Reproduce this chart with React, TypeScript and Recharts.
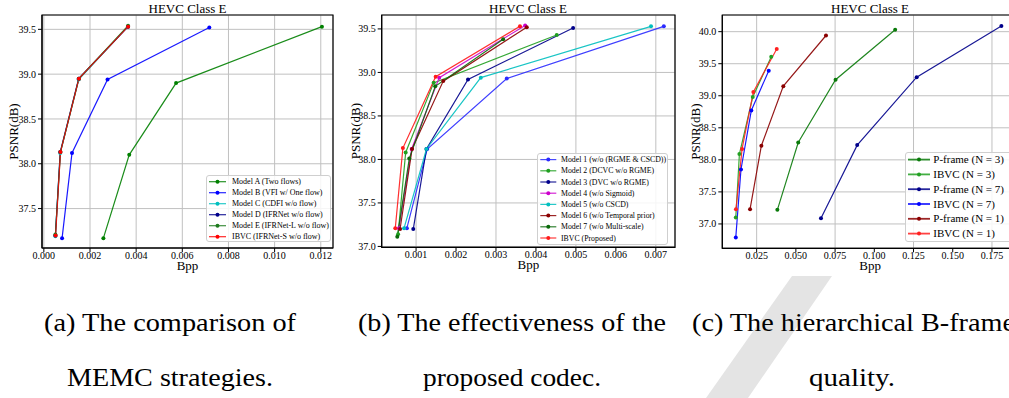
import React from "react";
import { LineChart, Line, XAxis, YAxis, CartesianGrid, ReferenceArea, Legend } from "recharts";

const SERIF = '"Liberation Serif", "Times New Roman", serif';

// ---- (a) MEMC strategies ----
const aModelABpp = [0.00258, 0.0037, 0.00573, 0.01205];
const aModelAPsnr = [37.17, 38.1, 38.9, 39.53];
const aModelBBpp = [0.00079, 0.00122, 0.00276, 0.00717];
const aModelBPsnr = [37.17, 38.12, 38.94, 39.52];
const aModelCBpp = [0.0005, 0.00071, 0.00151, 0.00364];
const aModelCPsnr = [37.19, 38.12, 38.94, 39.53];
const aModelDBpp = [0.0005, 0.00071, 0.00151, 0.00365];
const aModelDPsnr = [37.2, 38.13, 38.95, 39.53];
const aModelEBpp = [0.0005, 0.00072, 0.00152, 0.00365];
const aModelEPsnr = [37.21, 38.13, 38.95, 39.54];
const aIbvcBpp = [0.00051, 0.00072, 0.00152, 0.00365];
const aIbvcPsnr = [37.2, 38.13, 38.95, 39.53];
const aXTicks = [0, 0.002, 0.004, 0.006, 0.008, 0.01, 0.012];
const aYTicks = [37.5, 38.0, 38.5, 39.0, 39.5];

// ---- (b) proposed codec ablation ----
const bModel1Bpp = [0.00077, 0.00128, 0.00327, 0.0072];
const bModel1Psnr = [37.21, 38.12, 38.93, 39.53];
const bModel2Bpp = [0.00055, 0.00074, 0.00144, 0.00452];
const bModel2Psnr = [37.14, 38.08, 38.88, 39.43];
const bModel3Bpp = [0.00093, 0.00126, 0.0023, 0.00493];
const bModel3Psnr = [37.2, 38.12, 38.92, 39.51];
const bModel4Bpp = [0.00057, 0.00089, 0.00158, 0.00373];
const bModel4Psnr = [37.21, 38.12, 38.94, 39.54];
const bModel5Bpp = [0.0007, 0.00126, 0.00262, 0.00688];
const bModel5Psnr = [37.21, 38.12, 38.94, 39.53];
const bModel6Bpp = [0.0006, 0.0009, 0.00168, 0.00377];
const bModel6Psnr = [37.2, 38.12, 38.9, 39.52];
const bModel7Bpp = [0.00053, 0.00083, 0.00148, 0.00318];
const bModel7Psnr = [37.11, 38.01, 38.84, 39.38];
const bIbvcBpp = [0.00048, 0.00067, 0.00149, 0.0036];
const bIbvcPsnr = [37.21, 38.13, 38.95, 39.53];
const bXTicks = [0.001, 0.002, 0.003, 0.004, 0.005, 0.006, 0.007];
const bYTicks = [37.0, 37.5, 38.0, 38.5, 39.0, 39.5];

// ---- (c) hierarchical B-frame quality ----
const cPN3Bpp = [0.0382, 0.0515, 0.0753, 0.1133];
const cPN3Psnr = [37.22, 38.27, 39.25, 40.03];
const cIN3Bpp = [0.0117, 0.014, 0.0225, 0.0343];
const cIN3Psnr = [37.1, 38.09, 38.98, 39.61];
const cPN7Bpp = [0.066, 0.0891, 0.127, 0.181];
const cPN7Psnr = [37.09, 38.23, 39.29, 40.09];
const cIN7Bpp = [0.0117, 0.015, 0.0216, 0.0327];
const cIN7Psnr = [36.79, 37.85, 38.77, 39.39];
const cPN1Bpp = [0.0208, 0.028, 0.042, 0.0692];
const cPN1Psnr = [37.23, 38.22, 39.15, 39.94];
const cIN1Bpp = [0.0118, 0.0157, 0.0229, 0.0378];
const cIN1Psnr = [37.23, 38.17, 39.06, 39.73];
const cXTicks = [0.025, 0.05, 0.075, 0.1, 0.125, 0.15, 0.175];
const cYTicks = [37.0, 37.5, 38.0, 38.5, 39.0, 39.5, 40.0];

interface Series {
  name: string;
  color: string;
  bpp: number[];
  psnr: number[];
  opacity?: number;
}

const seriesA: Series[] = [
  { name: "Model A (Two flows)", color: "#008000", bpp: aModelABpp, psnr: aModelAPsnr },
  { name: "Model B (VFI w/ One flow)", color: "#0000ff", bpp: aModelBBpp, psnr: aModelBPsnr },
  { name: "Model C (CDFI w/o flow)", color: "#00bfbf", bpp: aModelCBpp, psnr: aModelCPsnr },
  { name: "Model D (IFRNet w/o flow)", color: "#00008b", bpp: aModelDBpp, psnr: aModelDPsnr },
  { name: "Model E (IFRNet-L w/o flow)", color: "#1e7b1e", bpp: aModelEBpp, psnr: aModelEPsnr },
  { name: "IBVC (IFRNet-S w/o flow)", color: "#ff0000", bpp: aIbvcBpp, psnr: aIbvcPsnr, opacity: 0.8 },
];

const seriesB: Series[] = [
  { name: "Model 1 (w/o (RGME & CSCD))", color: "#2a2aff", bpp: bModel1Bpp, psnr: bModel1Psnr },
  { name: "Model 2 (DCVC w/o RGME)", color: "#1f9f1f", bpp: bModel2Bpp, psnr: bModel2Psnr },
  { name: "Model 3 (DVC w/o RGME)", color: "#00008b", bpp: bModel3Bpp, psnr: bModel3Psnr },
  { name: "Model 4 (w/o Sigmoid)", color: "#cc00cc", bpp: bModel4Bpp, psnr: bModel4Psnr },
  { name: "Model 5 (w/o CSCD)", color: "#00bfbf", bpp: bModel5Bpp, psnr: bModel5Psnr },
  { name: "Model 6 (w/o Temporal prior)", color: "#8b0000", bpp: bModel6Bpp, psnr: bModel6Psnr },
  { name: "Model 7 (w/o Multi-scale)", color: "#0a6a0a", bpp: bModel7Bpp, psnr: bModel7Psnr },
  { name: "IBVC (Proposed)", color: "#ff1a1a", bpp: bIbvcBpp, psnr: bIbvcPsnr },
];

const seriesC: Series[] = [
  { name: "P-frame (N = 3)", color: "#0a7a0a", bpp: cPN3Bpp, psnr: cPN3Psnr },
  { name: "IBVC (N = 3)", color: "#22a022", bpp: cIN3Bpp, psnr: cIN3Psnr },
  { name: "P-frame (N = 7)", color: "#00008b", bpp: cPN7Bpp, psnr: cPN7Psnr },
  { name: "IBVC (N = 7)", color: "#0000ff", bpp: cIN7Bpp, psnr: cIN7Psnr },
  { name: "P-frame (N = 1)", color: "#8b0000", bpp: cPN1Bpp, psnr: cPN1Psnr },
  { name: "IBVC (N = 1)", color: "#ff2020", bpp: cIN1Bpp, psnr: cIN1Psnr },
];

const toPoints = (bpp: number[], psnr: number[]) => bpp.map((x, i) => ({ bpp: x, psnr: psnr[i] }));

interface LegendSpec {
  left: number;
  top: number;
  width: number;
  height: number;
  rowTop: number;
  rowStep: number;
  lineX1: number;
  lineX2: number;
  textX: number;
  fontSize: number;
  lineWidth: number;
}

function LegendBox({ series, spec }: { series: Series[]; spec: LegendSpec }) {
  return (
    <div
      style={{
        position: "absolute",
        left: spec.left,
        top: spec.top,
        width: spec.width,
        height: spec.height,
        border: "1px solid #cfcfcf",
        borderRadius: 3,
        background: "rgba(255,255,255,0.85)",
        boxSizing: "border-box",
      }}
    >
      <svg
        width={spec.width}
        height={spec.height}
        style={{ position: "absolute", left: -1, top: -1, overflow: "visible" }}
      >
        {series.map((s, i) => {
          const y = spec.rowTop + i * spec.rowStep;
          return (
            <g key={s.name}>
              <line x1={spec.lineX1} x2={spec.lineX2} y1={y} y2={y} stroke={s.color} strokeWidth={spec.lineWidth} strokeOpacity={0.85} />
              <circle cx={(spec.lineX1 + spec.lineX2) / 2} cy={y} r={2} fill={s.color} />
              <text x={spec.textX} y={y} dy="0.33em" fontFamily={SERIF} fontSize={spec.fontSize} fill="#000">
                {s.name}
              </text>
            </g>
          );
        })}
      </svg>
    </div>
  );
}

interface PanelProps {
  left: number;
  width: number;
  yAxisWidth: number;
  rightMargin: number;
  bottomMargin: number;
  xDomain: [number, number];
  yDomain: [number, number];
  xTicks: number[];
  yTicks: number[];
  series: Series[];
  yLabelOffset: number;
  titleCenter: number;
  legend: LegendSpec;
}

function Panel(p: PanelProps) {
  const height = 280;
  return (
    <div style={{ position: "absolute", left: p.left, top: 0, width: p.width, height }}>
      <div
        style={{
          position: "absolute",
          left: p.titleCenter - 60,
          width: 120,
          top: 2,
          textAlign: "center",
          fontFamily: SERIF,
          fontSize: 13,
          lineHeight: "14px",
        }}
      >
        HEVC Class E
      </div>
      <LineChart
        width={p.width}
        height={height}
        margin={{ top: 15, right: p.rightMargin, left: 0, bottom: p.bottomMargin }}
        style={{ fontFamily: SERIF }}
      >
        <CartesianGrid stroke="#c0c0c0" strokeWidth={1} />
        <XAxis
          dataKey="bpp"
          type="number"
          domain={p.xDomain}
          ticks={p.xTicks}
          allowDataOverflow
          height={30}
          tickSize={4}
          tickMargin={0}
          tick={{ fontSize: 10, fill: "#000", fontFamily: SERIF }}
          tickLine={{ stroke: "#000" }}
          axisLine={{ stroke: "#000" }}
          tickFormatter={(v: number) => v.toFixed(3)}
          label={{ value: "Bpp", position: "insideBottom", offset: 8, fontSize: 13, fill: "#000", fontFamily: SERIF }}
        />
        <YAxis
          dataKey="psnr"
          type="number"
          domain={p.yDomain}
          ticks={p.yTicks}
          allowDataOverflow
          width={p.yAxisWidth}
          tickSize={4}
          tickMargin={2}
          tick={{ fontSize: 10, fill: "#000", fontFamily: SERIF }}
          tickLine={{ stroke: "#000" }}
          axisLine={{ stroke: "#000" }}
          tickFormatter={(v: number) => v.toFixed(1)}
          label={{
            value: "PSNR(dB)",
            angle: -90,
            position: "insideLeft",
            offset: p.yLabelOffset,
            fontSize: 13,
            fill: "#000",
            fontFamily: SERIF,
            style: { textAnchor: "middle" },
          }}
        />
        {p.series.map((s) => (
          <Line
            key={s.name}
            data={toPoints(s.bpp, s.psnr)}
            dataKey="psnr"
            name={s.name}
            stroke={s.color}
            strokeWidth={1.2}
            strokeOpacity={s.opacity ?? 0.9}
            dot={{ r: 2, fill: s.color, stroke: s.color, strokeWidth: 0 }}
            isAnimationActive={false}
          />
        ))}
        <ReferenceArea
          x1={p.xDomain[0]}
          x2={p.xDomain[1]}
          y1={p.yDomain[0]}
          y2={p.yDomain[1]}
          fill="none"
          stroke="#000"
          strokeWidth={1.2}
          ifOverflow="extendDomain"
        />
        <Legend
          content={() => <LegendBox series={p.series} spec={p.legend} />}
          wrapperStyle={{ position: "absolute", left: 0, top: 0, width: 0, height: 0 }}
        />
      </LineChart>
    </div>
  );
}

// sub-figure captions, each centred under its panel (the first line of (c) runs off the page)
const captionLines = [
  { text: "(a) The comparison of", x: 170, y: 331, w: 252, anchor: "middle" },
  { text: "(b) The effectiveness of the", x: 512, y: 331, w: 308, anchor: "middle" },
  { text: "(c) The hierarchical B-frame", x: 692, y: 331, w: 323, anchor: "start" },
  { text: "MEMC strategies.", x: 170, y: 386, w: 206, anchor: "middle" },
  { text: "proposed codec.", x: 512, y: 386, w: 178, anchor: "middle" },
  { text: "quality.", x: 852, y: 386, w: 86, anchor: "middle" },
];

export default function App() {
  return (
    <div
      style={{
        position: "absolute",
        left: 0,
        top: 0,
        width: 1009,
        height: 398,
        overflow: "hidden",
        background: "#fff",
        fontFamily: SERIF,
      }}
    >
      {/* faint draft watermark behind the captions */}
      <svg width={1009} height={398} style={{ position: "absolute", left: 0, top: 0 }}>
        <polygon points="792,276 832,276 748,398 706,398" fill="#e4e4e4" />
      </svg>
      <Panel
        left={0}
        width={345}
        yAxisWidth={42}
        rightMargin={12}
        bottomMargin={2}
        xDomain={[-0.00008, 0.01253]}
        yDomain={[37.06, 39.66]}
        xTicks={aXTicks}
        yTicks={aYTicks}
        series={seriesA}
        yLabelOffset={13}
        titleCenter={187.5}
        legend={{ left: 206, top: 175, width: 125, height: 67, rowTop: 6.7, rowStep: 11, lineX1: 3, lineX2: 20, textX: 26, fontSize: 8, lineWidth: 1.2 }}
      />
      <Panel
        left={340}
        width={345}
        yAxisWidth={41.7}
        rightMargin={10}
        bottomMargin={2.7}
        xDomain={[0.00014, 0.00748]}
        yDomain={[36.99, 39.66]}
        xTicks={bXTicks}
        yTicks={bYTicks}
        series={seriesB}
        yLabelOffset={15}
        titleCenter={188}
        legend={{ left: 196.7, top: 152.7, width: 131, height: 92, rowTop: 6.6, rowStep: 11.2, lineX1: 3.3, lineX2: 19.3, textX: 24, fontSize: 7.8, lineWidth: 1.2 }}
      />
      <Panel
        left={685}
        width={343}
        yAxisWidth={37.3}
        rightMargin={10}
        bottomMargin={1.7}
        xDomain={[0.0031, 0.1916]}
        yDomain={[36.62, 40.26]}
        xTicks={cXTicks}
        yTicks={cYTicks}
        series={seriesC}
        yLabelOffset={10}
        titleCenter={185}
        legend={{ left: 220, top: 151.7, width: 112, height: 90, rowTop: 7.6, rowStep: 14.8, lineX1: 3, lineX2: 25, textX: 28.3, fontSize: 11, lineWidth: 1.8 }}
      />
      <svg width={1009} height={398} style={{ position: "absolute", left: 0, top: 0, pointerEvents: "none" }}>
        {captionLines.map((c) => (
          <text
            key={c.text}
            x={c.x}
            y={c.y}
            textAnchor={c.anchor}
            textLength={c.w}
            lengthAdjust="spacingAndGlyphs"
            fontFamily={SERIF}
            fontSize={25}
            fill="#000"
          >
            {c.text}
          </text>
        ))}
      </svg>
    </div>
  );
}
